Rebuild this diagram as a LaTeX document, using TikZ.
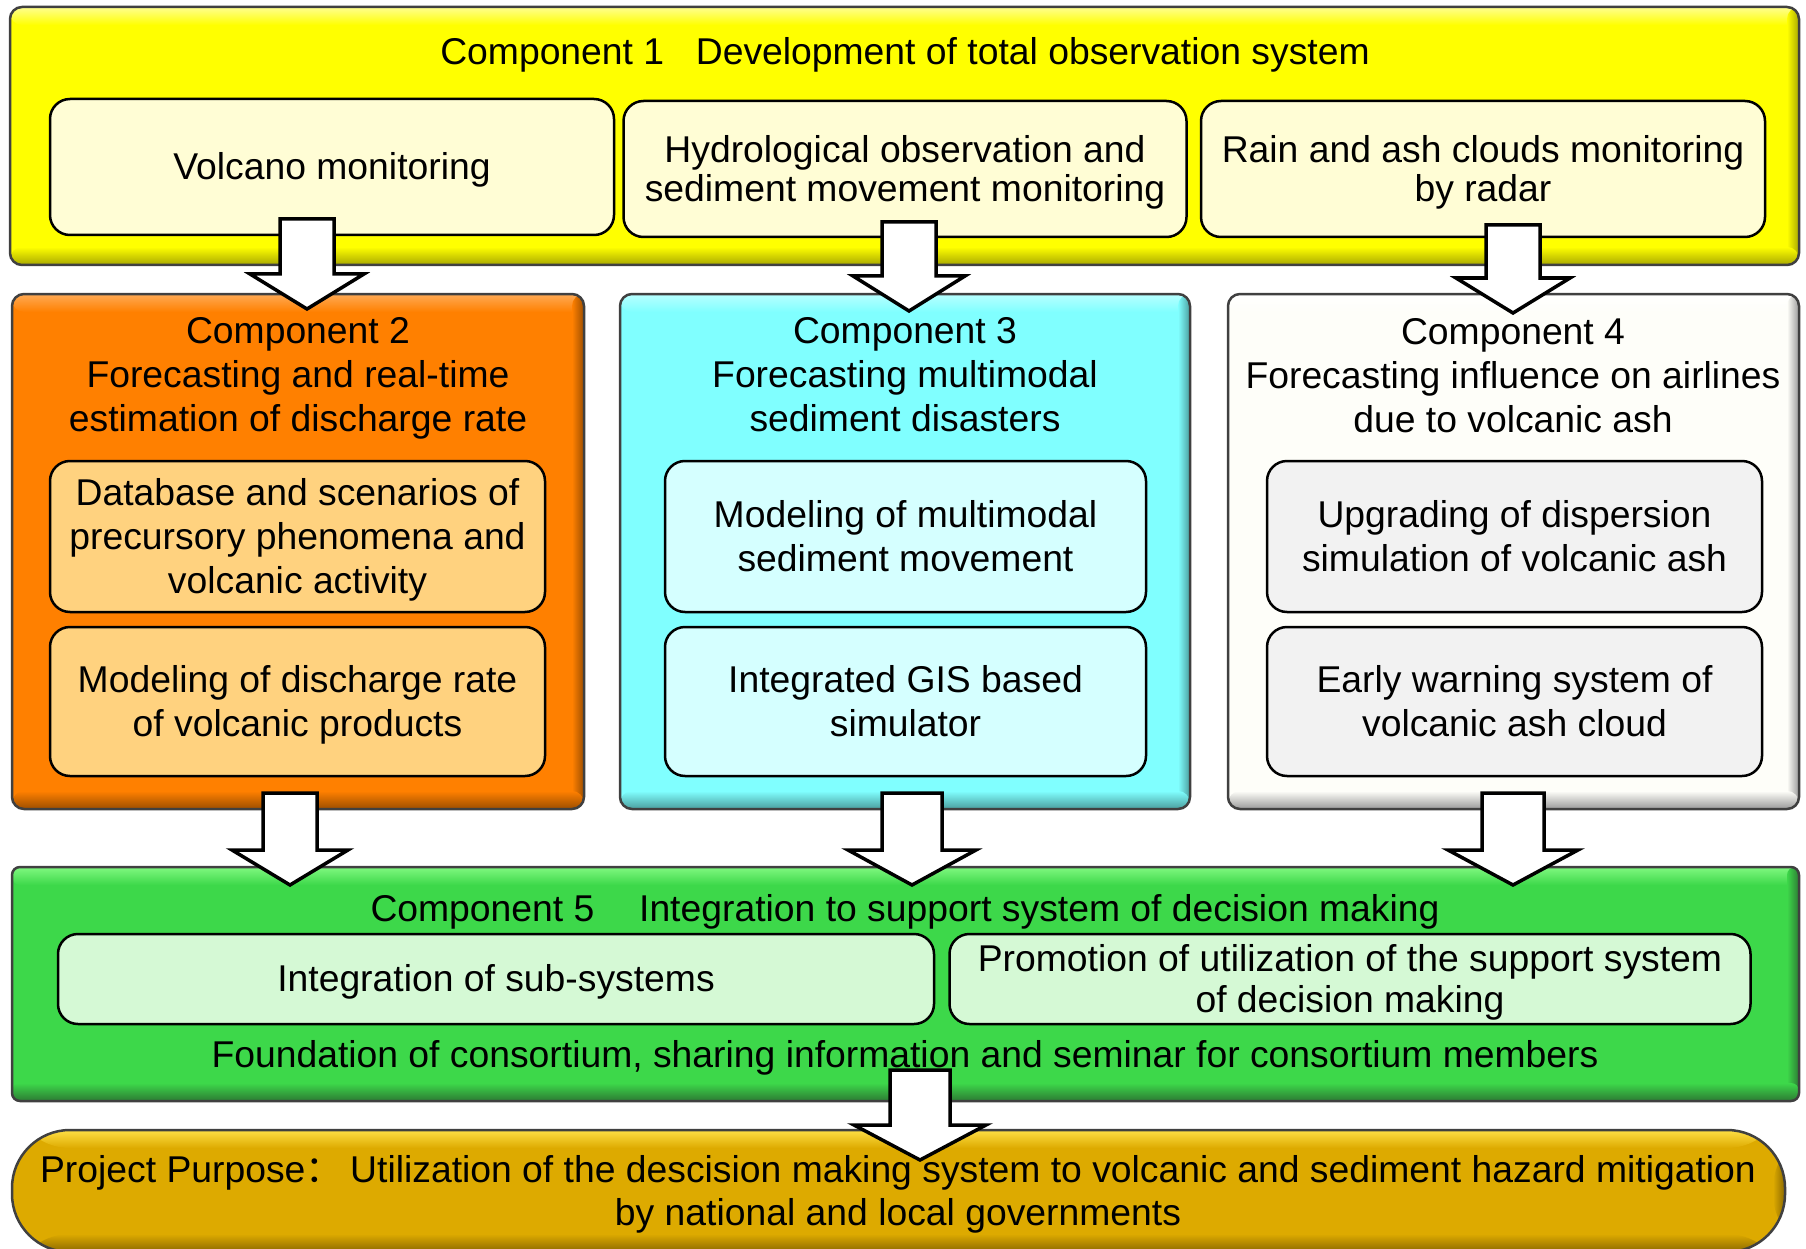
\documentclass[tikz,border=0pt]{standalone}
\usepackage{fontspec}
\setmainfont{Liberation Sans}
\newfontfamily\cjk{Noto Sans CJK SC}
\usetikzlibrary{calc,positioning}

% component colours: fill, light edge, dark edge, inner boxes
\definecolor{c1fill}{HTML}{FFFF00}
\definecolor{c1light}{HTML}{FFFF90}
\definecolor{c1dark}{HTML}{A8A800}
\definecolor{c1item}{HTML}{FFFDD5}
\definecolor{c2fill}{HTML}{FF8000}
\definecolor{c2light}{HTML}{FFAA55}
\definecolor{c2dark}{HTML}{9C4E00}
\definecolor{c2item}{HTML}{FFD27F}
\definecolor{c3fill}{HTML}{80FFFF}
\definecolor{c3light}{HTML}{B8FFFF}
\definecolor{c3dark}{HTML}{4A9E9E}
\definecolor{c3item}{HTML}{D5FFFF}
\definecolor{c4fill}{HTML}{FEFEF9}
\definecolor{c4light}{HTML}{FFFFFF}
\definecolor{c4dark}{HTML}{999999}
\definecolor{c4item}{HTML}{F2F2F2}
\definecolor{c5fill}{HTML}{3DD84A}
\definecolor{c5light}{HTML}{80F880}
\definecolor{c5dark}{HTML}{2C7A33}
\definecolor{c5item}{HTML}{D5F9D5}
\definecolor{goalfill}{HTML}{DDAA00}
\definecolor{goallight}{HTML}{FFDF45}
\definecolor{goaldark}{HTML}{8A6800}

\tikzset{component/.style={
    % The shape:
    rectangle,
    rounded corners=12pt,
    % The border:
    line width=2.5pt,
    draw=black!75,
    inner sep=0pt,
    },
    bevel/.style n args={3}{
    fill=#1,
    % light band on top, dark bands on the right and at the bottom
    path picture={
      \coordinate (bb-nw) at (path picture bounding box.north west);
      \coordinate (bb-se) at (path picture bounding box.south east);
      \shade[top color=#2, bottom color=#1] (bb-nw) rectangle ($(bb-se |- bb-nw)+(0,18)$);
      \shade[left color=#1, right color=#3] ($(bb-se |- bb-nw)+(-12,0)$) rectangle (bb-se);
      \shade[top color=#1, bottom color=#3] ($(bb-nw |- bb-se)+(0,-18)$) rectangle (bb-se);
      },
    },
    % Font, with room for the full ascent and descent of the lines
    bodytext/.style={
    align=center,
    font=\fontsize{37.3}{44}\selectfont,
    execute at end node={\rule[-0.212em]{0pt}{0pt}},
    lines=1,
    },
    lines/.style={
    execute at begin node={\rule{0pt}{\dimexpr 0.905em+#1\baselineskip-\baselineskip\relax}},
    },
    item/.style={
    rectangle,
    rounded corners=20pt,
    line width=2.5pt,
    draw=black,
    inner sep=0pt,
    bodytext,
    },
    title/.style={
    inner sep=0pt,
    bodytext,
    },
    fatarrow/.style={
    draw=black,
    line width=3.5pt,
    fill=white,
    line join=miter,
    },
}

% block arrow: #1 top of the shaft, #2 tip, #3 half shaft width, #4 half head width
\newcommand{\fatarrow}[4]{%
  \draw[fatarrow] let \p1=(#1), \p2=(#2) in
    (\x1-#3pt,\y1) -- (\x1+#3pt,\y1) -- (\x1+#3pt,\y2+35pt) -- (\x1+#4pt,\y2+35pt)
    -- (\x1,\y2) -- (\x1-#4pt,\y2+35pt) -- (\x1-#3pt,\y2+35pt) -- cycle;}

\begin{document}
\begin{tikzpicture}[x=1pt, y=-1pt, node distance = 12.5pt and 7pt]
    \useasboundingbox (0,0) rectangle (1806,1249);

    % Component 1
    \node (c1)    [component, bevel={c1fill}{c1light}{c1dark}, minimum width=1789pt, minimum height=258pt] at (904.5,136) {};
    \node (t1)    [title] at (905,52) {Component 1\hspace{0.85em}Development of total observation system};
    \node (vm)    [item, fill=c1item, minimum width=564pt, minimum height=136pt] at (332,167) {Volcano monitoring};
    \node (hydro) [item, fill=c1item, minimum width=563pt, minimum height=136pt, right=of vm, yshift=-2pt, font=\fontsize{37.3}{39}\selectfont, lines=2]
                  {Hydrological observation and\\sediment movement monitoring};
    \node (rain)  [item, fill=c1item, minimum width=564pt, minimum height=136pt, right=12pt of hydro, font=\fontsize{37.3}{39}\selectfont, lines=2]
                  {Rain and ash clouds monitoring\\by radar};

    % Component 2
    \node (c2)    [component, bevel={c2fill}{c2light}{c2dark}, minimum width=572pt, minimum height=515pt] at (298,551.5) {};
    \node (t2)    [title, lines=3] at (298,375) {Component 2\\Forecasting and real-time\\estimation of discharge rate};
    \node (db)    [item, fill=c2item, minimum width=495pt, minimum height=151pt, lines=3] at (297.5,536.5)
                  {Database and scenarios of\\precursory phenomena and\\volcanic activity};
    \node (dr)    [item, fill=c2item, minimum width=495pt, minimum height=149pt, below=of db, lines=2]
                  {Modeling of discharge rate\\of volcanic products};

    % Component 3
    \node (c3)    [component, bevel={c3fill}{c3light}{c3dark}, minimum width=570pt, minimum height=515pt] at (905,551.5) {};
    \node (t3)    [title, lines=3] at (905,375) {Component 3\\Forecasting multimodal\\sediment disasters};
    \node (mm)    [item, fill=c3item, minimum width=481pt, minimum height=151pt, lines=2] at (905.5,536.5)
                  {Modeling of multimodal\\sediment movement};
    \node (gis)   [item, fill=c3item, minimum width=481pt, minimum height=149pt, below=of mm, lines=2]
                  {Integrated GIS based\\simulator};

    % Component 4
    \node (c4)    [component, bevel={c4fill}{c4light}{c4dark}, minimum width=571pt, minimum height=515pt] at (1513.5,551.5) {};
    \node (t4)    [title, lines=3] at (1513,376) {Component 4\\Forecasting influence on airlines\\due to volcanic ash};
    \node (ud)    [item, fill=c4item, minimum width=495pt, minimum height=151pt, lines=2] at (1514.5,536.5)
                  {Upgrading of dispersion\\simulation of volcanic ash};
    \node (ew)    [item, fill=c4item, minimum width=495pt, minimum height=149pt, below=of ud, lines=2]
                  {Early warning system of\\volcanic ash cloud};

    % Component 5
    \node (c5)    [component, rounded corners=8pt, bevel={c5fill}{c5light}{c5dark}, minimum width=1787pt, minimum height=234pt] at (905.5,984) {};
    \node (t5)    [title] at (905,909) {Component 5\hspace{1.2em}Integration to support system of decision making};
    \node (sub)   [item, fill=c5item, minimum width=876pt, minimum height=90pt] at (496,979) {Integration of sub-systems};
    \node (promo) [item, fill=c5item, minimum width=801pt, minimum height=90pt, right=13pt of sub, font=\fontsize{37.3}{41}\selectfont, lines=2]
                  {Promotion of utilization of the support system\\of decision making};
    \node (found) [title] at (905,1055) {Foundation of consortium, sharing information and seminar for consortium members};

    % Project purpose
    \node (goal)  [component, rounded corners=58pt, bevel={goalfill}{goallight}{goaldark}, minimum width=1773pt, minimum height=122pt] at (898.5,1191) {};
    \node (tgoal) [title, font=\fontsize{37.3}{43}\selectfont, lines=2] at (898,1191)
                  {Project Purpose{\cjk ：}\hspace{0.2em}Utilization of the descision making system to volcanic and sediment hazard mitigation\\by national and local governments};

    % block arrows between the components
    \coordinate (vm-out)    at (307,219);   \coordinate (c2-in)  at (307,309);
    \coordinate (hydro-out) at (909,222);   \coordinate (c3-in)  at (909,311);
    \coordinate (rain-out)  at (1513,225);  \coordinate (c4-in)  at (1513,313);
    \coordinate (c2-out)    at (290,793);   \coordinate (c5-in2) at (290,885);
    \coordinate (c3-out)    at (912,793);   \coordinate (c5-in3) at (912,885);
    \coordinate (c4-out)    at (1513,793);  \coordinate (c5-in4) at (1513,885);
    \coordinate (c5-out)    at (920,1070);  \coordinate (goal-in) at (920,1160);

    \fatarrow{vm-out}{c2-in}{27}{57}
    \fatarrow{hydro-out}{c3-in}{27}{56}
    \fatarrow{rain-out}{c4-in}{27}{57}
    \fatarrow{c2-out}{c5-in2}{27}{58}
    \fatarrow{c3-out}{c5-in3}{30}{64}
    \fatarrow{c4-out}{c5-in4}{31}{65}
    \fatarrow{c5-out}{goal-in}{30}{66}
\end{tikzpicture}
\end{document}
